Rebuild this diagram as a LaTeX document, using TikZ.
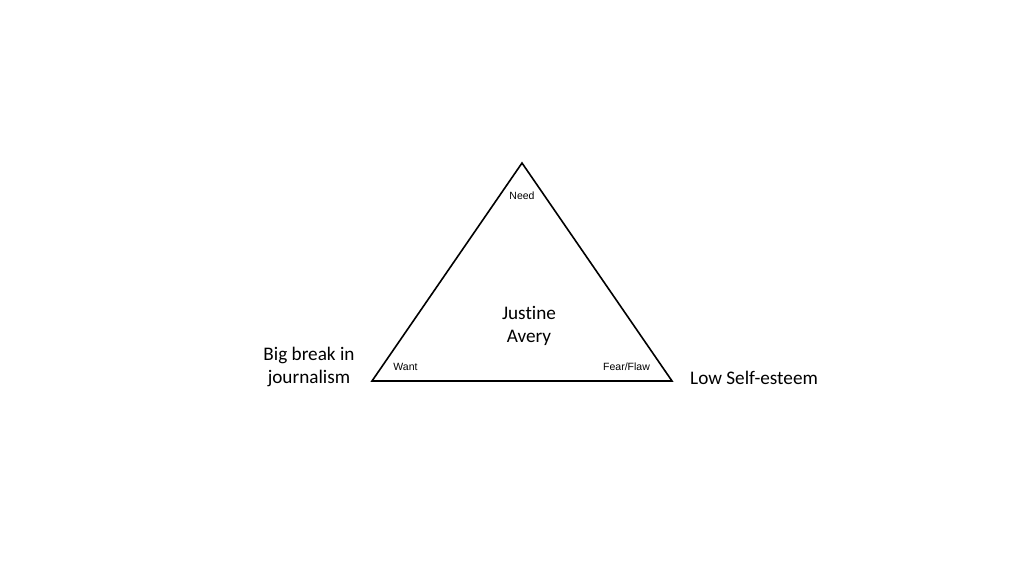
\documentclass[tikz,border=0pt]{standalone}
\usepackage{fontspec}
\setmainfont{Carlito}[Ligatures={NoCommon}]
\newfontfamily\arialfont{Liberation Sans}
\begin{document}
\begin{tikzpicture}[x=1pt,y=-1pt,
  bigl/.style={font=\fontsize{19.2}{23}\selectfont, align=center, inner sep=0pt},
  smalll/.style={font=\arialfont\fontsize{10.5}{12}\selectfont, inner sep=0pt},
  edge/.style={line width=1.6pt, line join=miter}]
\useasboundingbox[fill=white] (0,0) rectangle (1024,576);
\coordinate (A) at (522,163);
\coordinate (B) at (372,381);
\coordinate (C) at (672,381);
\draw[edge] (A) -- (B) -- (C) -- cycle;
\node[smalll] (need) at (522,195.5) {Need};
\node[smalll] (want) at (405.5,367) {Want};
\node[smalll] (fear) at (626.5,367) {Fear/Flaw};
\node[bigl] (name) at (529,326) {Justine\\Avery};
\node[bigl] (want2) at (309,366.5) {Big break in\\journalism};
\node[bigl, anchor=west] (fear2) at (690,378) {Low Self-esteem};
\end{tikzpicture}
\end{document}
